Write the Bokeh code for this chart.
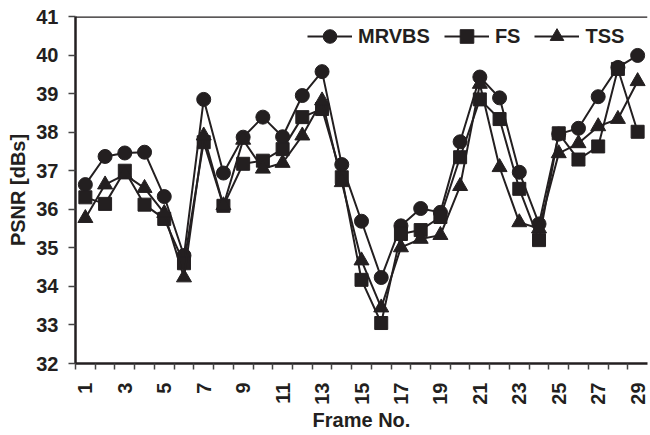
import math
from bokeh.plotting import figure
from bokeh.models import Range1d, FixedTicker, Span, Legend, LegendItem
from bokeh.embed import file_html
from bokeh.resources import INLINE

frames = list(range(1, 30))
mrvbs = [36.64, 37.37, 37.46, 37.48, 36.33, 34.80, 38.85, 36.94, 37.87, 38.39,
         37.88, 38.95, 39.57, 37.16, 35.69, 34.23, 35.57, 36.02, 35.92, 37.75,
         39.43, 38.89, 36.96, 35.62, 37.95, 38.10, 38.92, 39.68, 39.99]
fs = [36.31, 36.14, 37.00, 36.12, 35.75, 34.60, 37.74, 36.09, 37.18, 37.26,
      37.56, 38.39, 38.60, 36.83, 34.17, 33.05, 35.36, 35.46, 35.80, 37.35,
      38.85, 38.34, 36.53, 35.20, 37.97, 37.29, 37.63, 39.64, 38.01]
tss = [35.77, 36.64, 36.90, 36.55, 35.90, 34.23, 37.91, 36.10, 37.80, 37.05,
       37.20, 37.91, 38.82, 36.70, 34.67, 33.45, 35.01, 35.23, 35.33, 36.60,
       39.25, 37.09, 35.66, 35.50, 37.45, 37.71, 38.15, 38.34, 39.32]
x_labels = [str(f) for f in frames if f % 2 == 1]
y_ticks = list(range(32, 42))

INK = "#231f20"
FONT = "Liberation Sans"

p = figure(width=650, height=435, output_backend="svg", toolbar_location=None,
           x_range=Range1d(0.5, 29.5), y_range=Range1d(32, 41),
           min_border_left=75, min_border_right=3, min_border_top=16,
           min_border_bottom=72)
p.outline_line_color = None
p.xgrid.visible = False
p.ygrid.visible = False
p.background_fill_color = "white"

# x axis: labels on odd frames, ticks at category boundaries
p.xaxis.ticker = FixedTicker(ticks=[int(s) for s in x_labels],
                             minor_ticks=[f + 0.5 for f in range(0, 29)])
p.xaxis.major_tick_out = 0
p.xaxis.major_tick_in = 0
p.xaxis.minor_tick_out = 6
p.xaxis.minor_tick_in = 0
p.xaxis.minor_tick_line_color = "#444444"
p.xaxis.minor_tick_line_width = 1.5
p.xaxis.major_label_orientation = math.pi / 2
p.xaxis.major_label_standoff = 13
p.xaxis.axis_label = "Frame No."
p.xaxis.axis_label_standoff = 1

p.yaxis.ticker = FixedTicker(ticks=y_ticks, minor_ticks=[])
p.yaxis.major_tick_out = 7
p.yaxis.major_tick_in = 0
p.yaxis.major_tick_line_color = "#444444"
p.yaxis.major_tick_line_width = 1.5
p.yaxis.major_label_standoff = 10
p.yaxis.axis_label = "PSNR [dBs]"
p.yaxis.axis_label_standoff = 4

for ax in (p.xaxis, p.yaxis):
    ax.axis_line_color = INK
    ax.axis_line_width = 2.5
    ax.major_label_text_font = FONT
    ax.major_label_text_font_style = "bold"
    ax.major_label_text_font_size = "20px"
    ax.major_label_text_color = INK
    ax.axis_label_text_font = FONT
    ax.axis_label_text_font_style = "bold"
    ax.axis_label_text_font_size = "20px"
    ax.axis_label_text_color = INK

p.add_layout(Span(location=41, dimension="width", line_color=INK, line_width=2.5))

items = []
for name, ys, marker, size in (("MRVBS", mrvbs, "circle", 14),
                               ("FS", fs, "square", 13),
                               ("TSS", tss, "triangle", 15)):
    ln = p.line(frames, ys, line_color=INK, line_width=2)
    sc = p.scatter(frames, ys, marker=marker, size=size, fill_color=INK,
                   line_color=INK, line_width=1)
    items.append(LegendItem(label=name, renderers=[ln, sc]))

legend = Legend(items=items, orientation="horizontal", location=(232, 310),
                padding=0, margin=0, spacing=14, label_standoff=6,
                glyph_width=45, glyph_height=34,
                border_line_color=None, background_fill_alpha=0,
                label_text_font=FONT, label_text_font_style="bold",
                label_text_font_size="20px", label_text_color=INK)
p.add_layout(legend)

open("out.html", "w").write(file_html(p, INLINE))
